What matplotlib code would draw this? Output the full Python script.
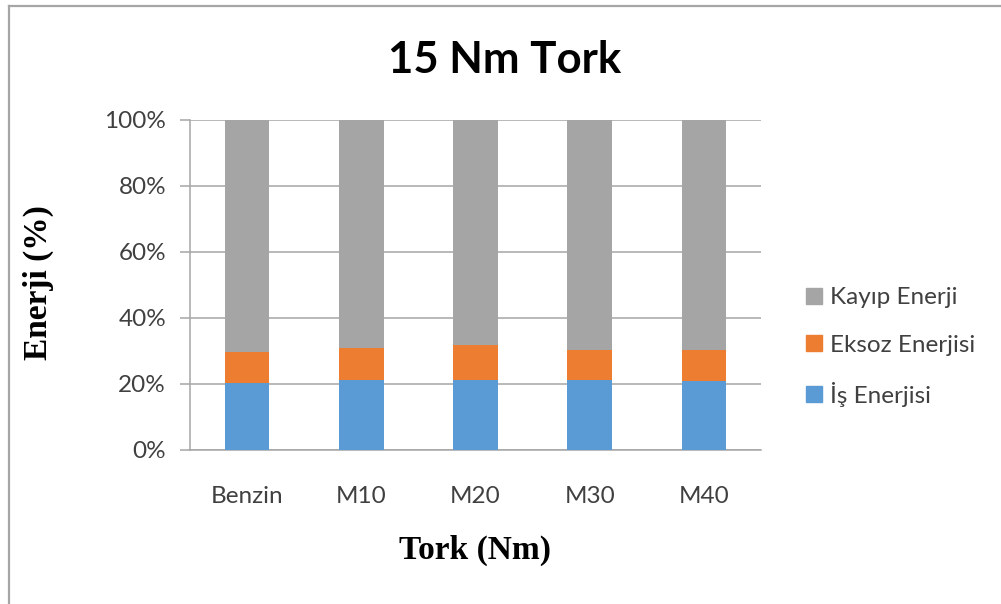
import numpy as np
import matplotlib.pyplot as plt
from matplotlib.lines import Line2D
from matplotlib.patches import Patch
from matplotlib.ticker import PercentFormatter

categories = ['Benzin', 'M10', 'M20', 'M30', 'M40']
is_enerjisi = [20.3, 21.2, 21.2, 21.2, 20.8]
eksoz_enerjisi = [9.4, 9.7, 10.5, 9.2, 9.6]
kayip_enerji = [100 - a - b for a, b in zip(is_enerjisi, eksoz_enerjisi)]

c_blue = '#5B9BD5'
c_orange = '#ED7D31'
c_gray = '#A5A5A5'
txt = '#404040'

fig = plt.figure(figsize=(10.01, 6.04), dpi=100)
ax = fig.add_axes([190 / 1001, 1 - 450 / 604, (761 - 190) / 1001, 330 / 604])

x = np.arange(len(categories))
w = 0.39
ax.bar(x, is_enerjisi, w, color=c_blue, zorder=3)
ax.bar(x, eksoz_enerjisi, w, bottom=is_enerjisi, color=c_orange, zorder=3)
bot2 = np.array(is_enerjisi) + np.array(eksoz_enerjisi)
ax.bar(x, kayip_enerji, w, bottom=bot2, color=c_gray, zorder=3)

ax.set_xlim(-0.5, len(categories) - 0.5)
ax.set_ylim(0, 100)
ax.set_yticks(np.arange(0, 101, 20))
ax.yaxis.set_major_formatter(PercentFormatter(decimals=0))
ax.set_xticks(x)
ax.set_xticklabels(categories)
ax.grid(axis='y', color='#A6A6A6', lw=1.1, zorder=0)
for s in ['top', 'right']:
    ax.spines[s].set_visible(False)
ax.spines['left'].set_color('#A6A6A6')
ax.spines['bottom'].set_color('#A6A6A6')
ax.spines['left'].set_linewidth(1.1)
ax.spines['bottom'].set_linewidth(1.1)
ax.tick_params(axis='y', length=7.2, width=1.1, color='#A6A6A6', pad=10,
               labelsize=17.5, labelcolor=txt)
ax.tick_params(axis='x', length=0, pad=26, labelsize=17.5, labelcolor=txt)
for lab in ax.get_xticklabels() + ax.get_yticklabels():
    lab.set_family('Lato')

fig.text(505 / 1001, 1 - 60 / 604, '15 Nm Tork', ha='center', va='center',
         fontsize=31.5, fontweight='bold', family='Lato', color='black')
fig.text(475 / 1001, 1 - 550 / 604, 'Tork (Nm)', ha='center', va='center',
         fontsize=24, fontweight='bold', family='Liberation Serif')
fig.text(38 / 1001, 1 - 283 / 604, 'Enerji (%)', ha='center', va='center',
         rotation=90, fontsize=24, fontweight='bold', family='Liberation Serif')

handles = [Patch(color=c_gray), Patch(color=c_orange), Patch(color=c_blue)]
labels = ['Kayıp Enerji', 'Eksoz Enerjisi', 'İş Enerjisi']
leg = fig.legend(handles, labels, loc='center left',
                 bbox_to_anchor=(784 / 1001, 1 - 347 / 604),
                 frameon=False, handlelength=0.66, handleheight=0.66,
                 handletextpad=0.35, labelspacing=1.07,
                 prop={'family': 'Lato', 'size': 17.5})
for t in leg.get_texts():
    t.set_color(txt)

# chart frame
fig.add_artist(Line2D([9 / 1001, 1], [1 - 5.5 / 604, 1 - 5.5 / 604],
                      transform=fig.transFigure, color='#A6A6A6', lw=1.6))
fig.add_artist(Line2D([9 / 1001, 9 / 1001], [0, 1 - 5.5 / 604],
                      transform=fig.transFigure, color='#A6A6A6', lw=1.6))

fig.savefig('out.png', dpi=100)
